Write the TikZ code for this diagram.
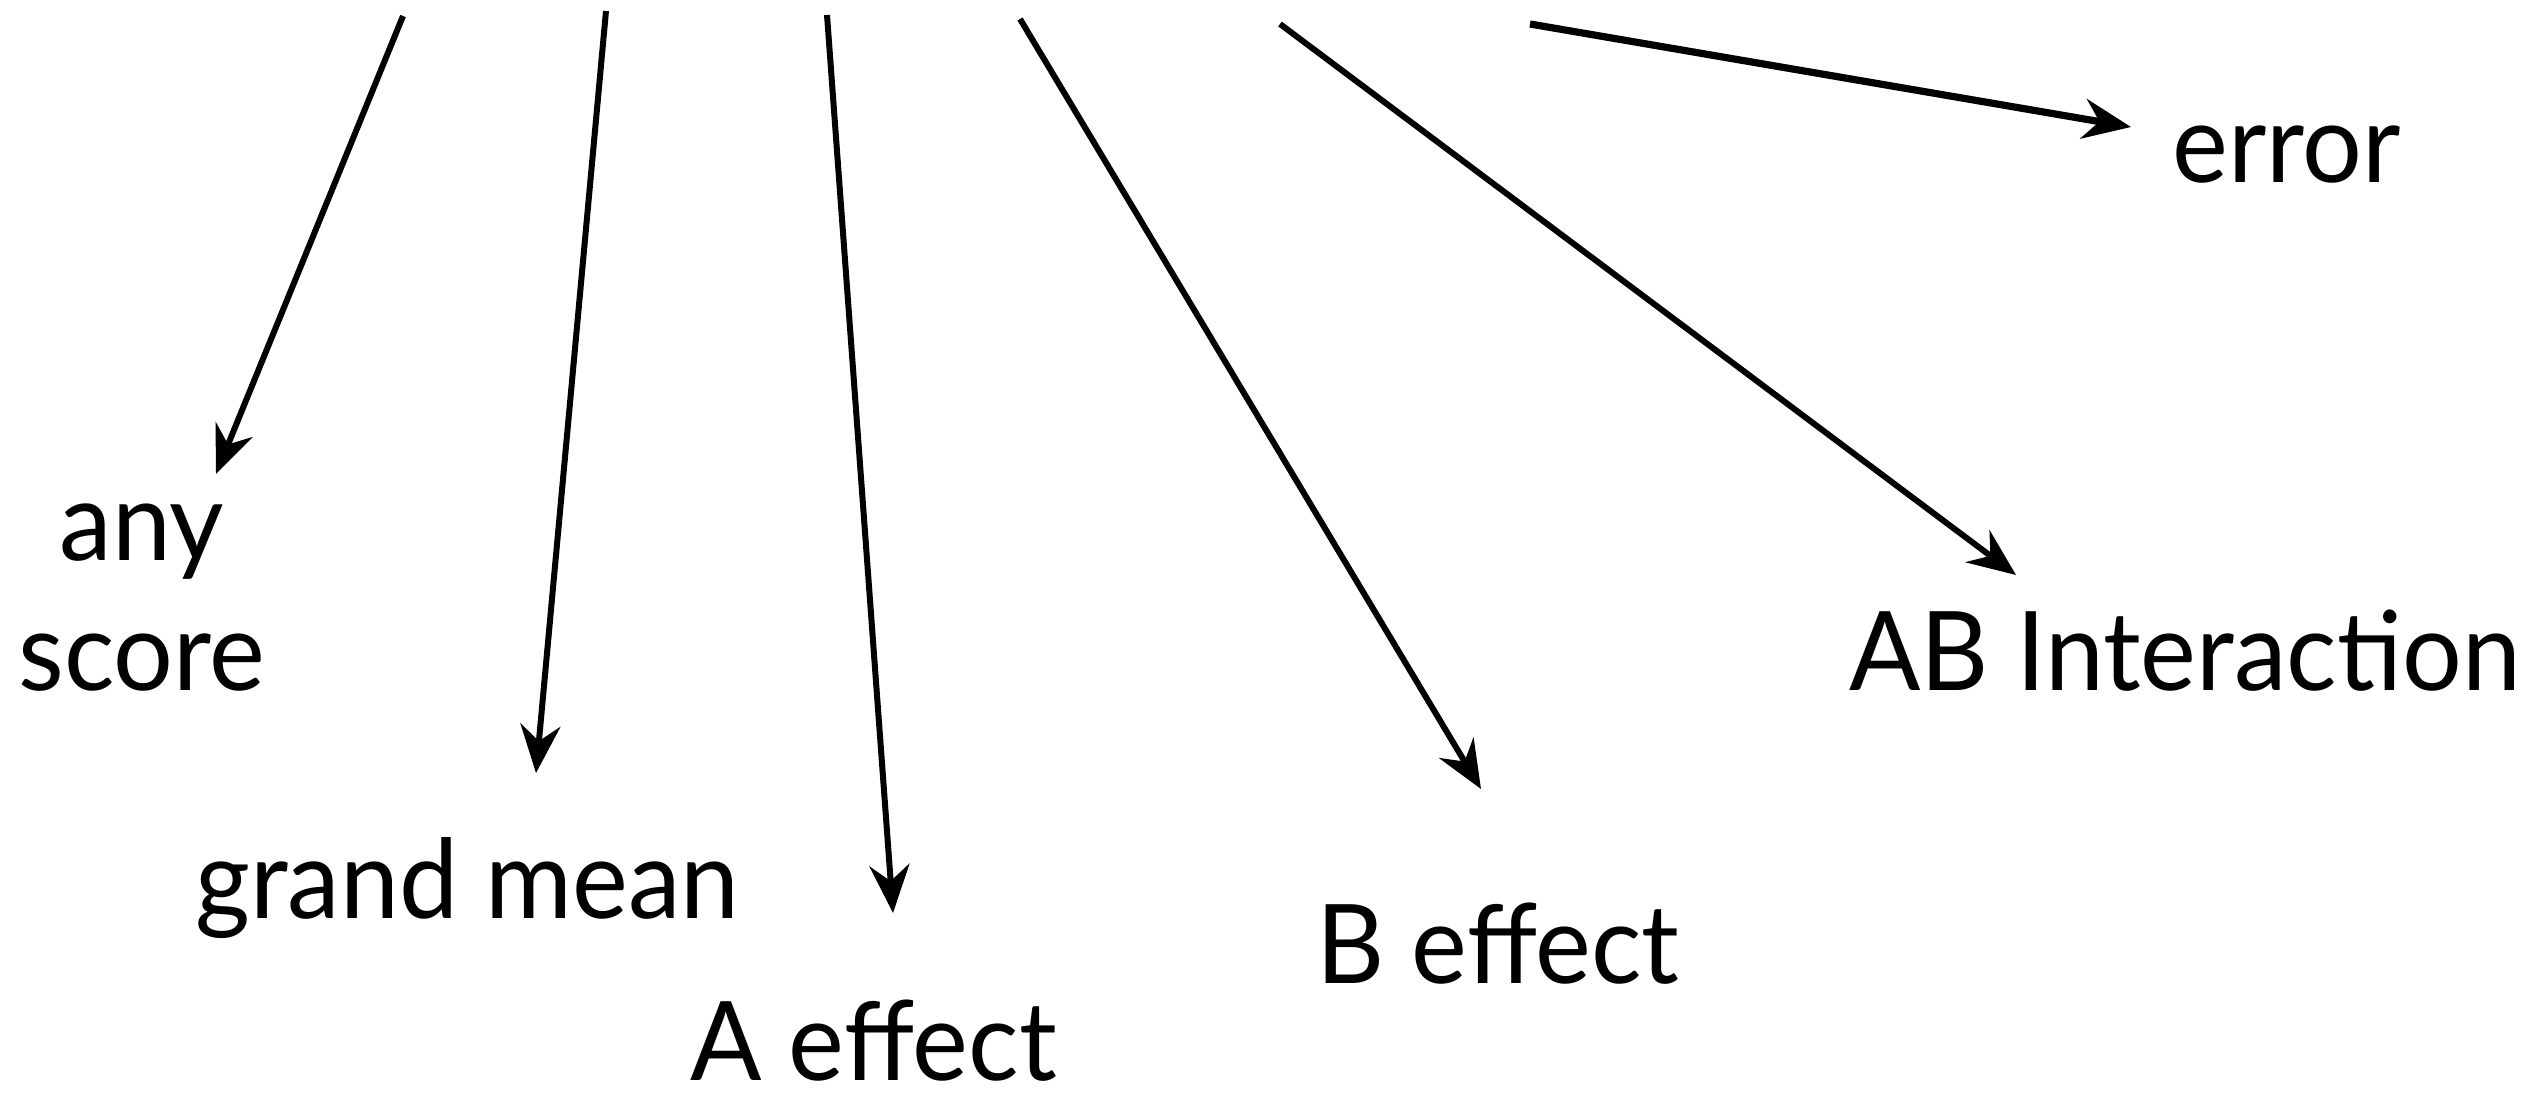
\documentclass[tikz,border=0pt]{standalone}
\usepackage{fontspec}
\setmainfont{Lato}[FakeStretch=0.96]
\usetikzlibrary{arrows.meta}
\tikzset{
  lbl/.style={inner sep=0pt, font=\fontsize{55}{65}\selectfont},
  conn/.style={line width=3pt, -{Stealth[length=24pt,width=20pt,inset=8pt]}},
}
\begin{document}
\begin{tikzpicture}[x=0.5pt,y=-0.5pt]
\useasboundingbox (0,0) rectangle (2547,1097);
% start points
\coordinate (s1) at (403,16);
\coordinate (s2) at (606,11);
\coordinate (s3) at (827,15);
\coordinate (s4) at (1020,19);
\coordinate (s5) at (1280,24);
\coordinate (s6) at (1530,24);
% arrow tips
\coordinate (t1) at (216,474);
\coordinate (t2) at (536,773);
\coordinate (t3) at (893,913);
\coordinate (t4) at (1481,789);
\coordinate (t5) at (2016,575);
\coordinate (t6) at (2131,127);
% labels
\node[lbl, anchor=base, align=center] (any) at (142,690) {any\\score};
\node[lbl, anchor=base west] (gm) at (195,918) {grand mean};
\node[lbl, anchor=base west] (ae) at (690,1080) {A effect};
\node[lbl, anchor=base west] (be) at (1316,983) {B effect};
\node[lbl, anchor=base west] (ab) at (1849,690) {AB Interaction};
\node[lbl, anchor=base west] (err) at (2172,182) {error};
% connectors
\draw[conn] (s1) -- (t1);
\draw[conn] (s2) -- (t2);
\draw[conn] (s3) -- (t3);
\draw[conn] (s4) -- (t4);
\draw[conn] (s5) -- (t5);
\draw[conn, line width=3.6pt] (s6) -- (t6);
\end{tikzpicture}
\end{document}
